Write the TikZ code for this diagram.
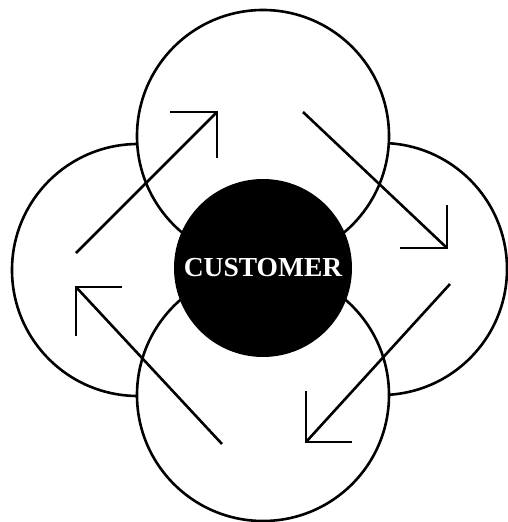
\documentclass[tikz,border=0pt]{standalone}
\usepackage{fontspec}
\setmainfont{Liberation Serif}
\begin{document}
\begin{tikzpicture}[x=1pt,y=-1pt,
  ring/.style={circle,draw=black,fill=white,line width=2.6pt,inner sep=0pt,minimum size=252pt},
  hub/.style={circle,fill=black,inner sep=0pt,minimum size=178pt,text=white,font=\bfseries\fontsize{27.5}{30}\selectfont},
  flow/.style={line width=2.6pt}]
\useasboundingbox[fill=white] (0,0) rectangle (508,522);
% back circles
\node[ring] (L) at (138,270) {};
\node[ring] (R) at (381,269) {};
% front circles
\node[ring] (T) at (263,136) {};
\node[ring] (B) at (263,395) {};
% centre
\node[hub] (C) at (263,268) {CUSTOMER};
% arrow 1 (up-right)
\coordinate (a1s) at (76,253);
\coordinate (a1t) at (217,112);
\coordinate (a1h) at (170,112);
\coordinate (a1v) at (217,158);
\draw[flow] (a1s) -- (a1t);
\draw[flow] (a1h) -- (a1t) -- (a1v);
% arrow 2 (down-right)
\coordinate (a2s) at (303,112);
\coordinate (a2t) at (447,248);
\coordinate (a2h) at (400,248);
\coordinate (a2v) at (447,205);
\draw[flow] (a2s) -- (a2t);
\draw[flow] (a2h) -- (a2t) -- (a2v);
% arrow 3 (down-left)
\coordinate (a3s) at (450,284);
\coordinate (a3t) at (306,442);
\coordinate (a3h) at (352,442);
\coordinate (a3v) at (306,391);
\draw[flow] (a3s) -- (a3t);
\draw[flow] (a3h) -- (a3t) -- (a3v);
% arrow 4 (up-left)
\coordinate (a4s) at (222,444);
\coordinate (a4t) at (76,287);
\coordinate (a4h) at (122,287);
\coordinate (a4v) at (76,336);
\draw[flow] (a4s) -- (a4t);
\draw[flow] (a4h) -- (a4t) -- (a4v);
\end{tikzpicture}
\end{document}
